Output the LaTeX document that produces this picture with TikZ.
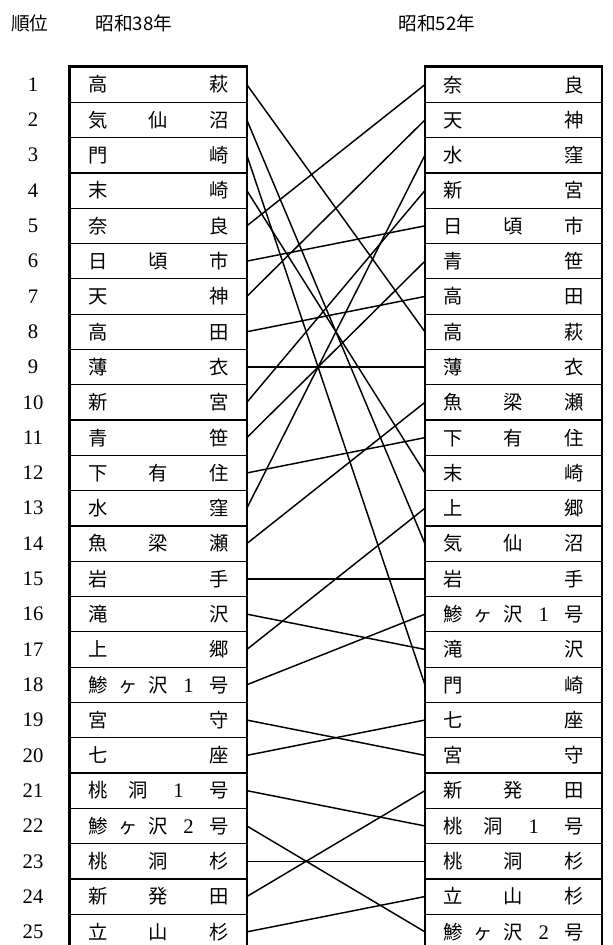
\documentclass[tikz,border=0pt]{standalone}
\usepackage{fontspec}
\newfontfamily\jp{Noto Sans CJK JP}
\newfontfamily\nf{Liberation Serif}
\newcommand\cj[1]{\makebox[15pt]{#1}}
\newcommand\nmbox[1]{\makebox[105.75pt]{#1}}
\newcommand\twoN[2]{\nmbox{\cj{#1}\hfill\cj{#2}}}
\newcommand\threeN[3]{\nmbox{\cj{#1}\hfill\cj{#2}\hfill\cj{#3}}}
\newcommand\fourN[4]{\nmbox{\cj{#1}\hfill\cj{#2}\hfill\cj{#3}\hfill\cj{#4}}}
\newcommand\fiveN[5]{\nmbox{\cj{#1}\hfill\cj{#2}\hfill\cj{#3}\hfill\cj{#4}\hfill\cj{#5}}}
\newcommand\dg[1]{{\nf\fontsize{15.5}{17}\selectfont #1}}
\begin{document}
\begin{tikzpicture}[x=0.75pt,y=-0.75pt,
  rowbox/.style={draw, line width=0.9pt, minimum width=132pt, minimum height=26.475pt,
    inner sep=0pt, font=\jp\fontsize{14.5}{16}\selectfont},
  num/.style={inner sep=0pt, font=\nf\fontsize{15.5}{17}\selectfont},
  hdr/.style={inner sep=0pt, font=\jp\fontsize{14}{16}\selectfont},
  conn/.style={line width=1.1pt},
  frame/.style={line width=1.8pt}]
\useasboundingbox (0,0) rectangle (613,945);
\node[hdr] (H0) at (30,23) {順位};
\node[hdr] (H1) at (134,23) {昭和38年};
\node[hdr] (H2) at (437,23) {昭和52年};
\foreach \k in {1,...,25}
  \node[num] (N\k) at (33,{49.35+35.3*\k}) {\k};
\foreach \k/\t in {
  1/\twoN{高}{萩},
  2/\threeN{気}{仙}{沼},
  3/\twoN{門}{崎},
  4/\twoN{末}{崎},
  5/\twoN{奈}{良},
  6/\threeN{日}{頃}{市},
  7/\twoN{天}{神},
  8/\twoN{高}{田},
  9/\twoN{薄}{衣},
  10/\twoN{新}{宮},
  11/\twoN{青}{笹},
  12/\threeN{下}{有}{住},
  13/\twoN{水}{窪},
  14/\threeN{魚}{梁}{瀬},
  15/\twoN{岩}{手},
  16/\twoN{滝}{沢},
  17/\twoN{上}{郷},
  18/\fiveN{鯵}{ヶ}{沢}{\dg{1}}{号},
  19/\twoN{宮}{守},
  20/\twoN{七}{座},
  21/\fourN{桃}{洞}{\dg{1}}{号},
  22/\fiveN{鯵}{ヶ}{沢}{\dg{2}}{号},
  23/\threeN{桃}{洞}{杉},
  24/\threeN{新}{発}{田},
  25/\threeN{立}{山}{杉}}
  \node[rowbox] (L\k) at (158.25,{49.35+35.3*\k}) {\t};
\foreach \k/\t in {
  1/\twoN{奈}{良},
  2/\twoN{天}{神},
  3/\twoN{水}{窪},
  4/\twoN{新}{宮},
  5/\threeN{日}{頃}{市},
  6/\twoN{青}{笹},
  7/\twoN{高}{田},
  8/\twoN{高}{萩},
  9/\twoN{薄}{衣},
  10/\threeN{魚}{梁}{瀬},
  11/\threeN{下}{有}{住},
  12/\twoN{末}{崎},
  13/\twoN{上}{郷},
  14/\threeN{気}{仙}{沼},
  15/\twoN{岩}{手},
  16/\fiveN{鯵}{ヶ}{沢}{\dg{1}}{号},
  17/\twoN{滝}{沢},
  18/\twoN{門}{崎},
  19/\twoN{七}{座},
  20/\twoN{宮}{守},
  21/\threeN{新}{発}{田},
  22/\fourN{桃}{洞}{\dg{1}}{号},
  23/\threeN{桃}{洞}{杉},
  24/\threeN{立}{山}{杉},
  25/\fiveN{鯵}{ヶ}{沢}{\dg{2}}{号}}
  \node[rowbox] (R\k) at (513.5,{49.35+35.3*\k}) {\t};
\draw[frame] (L1.north west) rectangle (L25.south east);
\draw[frame] (R1.north west) rectangle (R25.south east);
\foreach \a/\b in {1/8,2/14,3/18,4/12,5/1,6/5,7/2,8/7,9/9,10/4,11/6,12/11,13/3,
  14/10,15/15,16/17,17/13,18/16,19/20,20/19,21/22,22/25,23/23,24/21,25/24}
  \draw[conn] (L\a.east) -- (R\b.west);
\end{tikzpicture}
\end{document}
